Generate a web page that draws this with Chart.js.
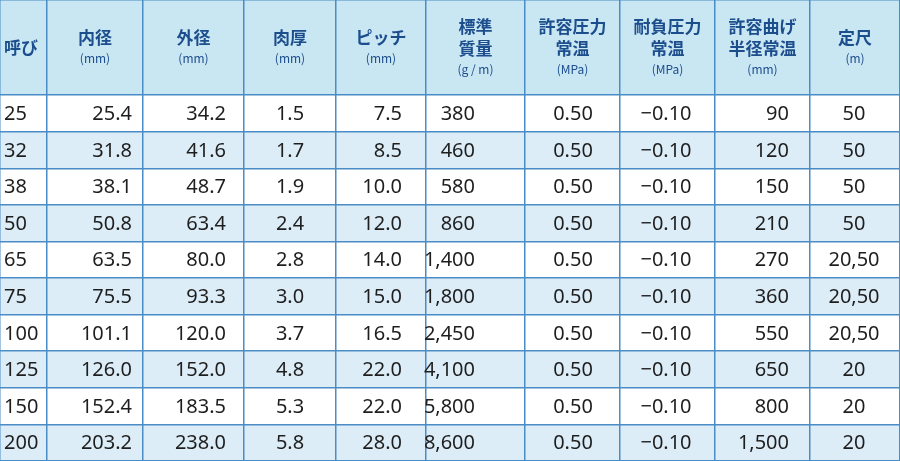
<!DOCTYPE html>
<html><head><meta charset="utf-8">
<script src="https://cdn.jsdelivr.net/npm/chart.js@4"></script>
<style>html,body{margin:0;padding:0;background:#fff}#w{width:900px;height:461px}</style>
</head><body><div id="w"><canvas id="c"></canvas></div>
<script>
const headers=[["呼び"],["内径","(mm)"],["外径","(mm)"],["肉厚","(mm)"],["ピッチ","(mm)"],["標準","質量","(g / m)"],["許容圧力","常温","(MPa)"],["耐負圧力","常温","(MPa)"],["許容曲げ","半径常温","(mm)"],["定尺","(m)"]];
const nominal=["25","32","38","50","65","75","100","125","150","200"];
const innerDia=["25.4","31.8","38.1","50.8","63.5","75.5","101.1","126.0","152.4","203.2"];
const outerDia=["34.2","41.6","48.7","63.4","80.0","93.3","120.0","152.0","183.5","238.0"];
const thickness=["1.5","1.7","1.9","2.4","2.8","3.0","3.7","4.8","5.3","5.8"];
const pitch=["7.5","8.5","10.0","12.0","14.0","15.0","16.5","22.0","22.0","28.0"];
const mass=["380","460","580","860","1,400","1,800","2,450","4,100","5,800","8,600"];
const pressure=["0.50","0.50","0.50","0.50","0.50","0.50","0.50","0.50","0.50","0.50"];
const vacuum=["−0.10","−0.10","−0.10","−0.10","−0.10","−0.10","−0.10","−0.10","−0.10","−0.10"];
const bendRadius=["90","120","150","210","270","360","550","650","800","1,500"];
const length=["50","50","50","50","20,50","20,50","20,50","20","20","20"];
const columns=[nominal,innerDia,outerDia,thickness,pitch,mass,pressure,vacuum,bendRadius,length];
// layout
const colEdges=[0,47,143,244,336,426,525,620,715,810,900];
const anchors=[[4,'left'],[132,'right'],[226,'right'],[290,'center'],[402,'right'],[475,'right'],[573,'center'],[666,'center'],[789,'right'],[854,'center']];
const HEAD=-2.6;
const tablePlugin={id:'tbl',
 beforeDraw(ch){const {ctx}=ch,x=ch.scales.x,y=ch.scales.y;ctx.save();
  ctx.fillStyle='#c9e6f3';ctx.fillRect(x.left,y.getPixelForValue(HEAD),x.right-x.left,y.getPixelForValue(0)-y.getPixelForValue(HEAD));
  for(let i=0;i<nominal.length;i++){ctx.fillStyle=i%2?'#dcedf8':'#ffffff';const a=y.getPixelForValue(i),b=y.getPixelForValue(i+1);ctx.fillRect(x.left,a,x.right-x.left,b-a);}
  ctx.restore();},
 afterDatasetsDraw(ch){const {ctx}=ch,x=ch.scales.x,y=ch.scales.y;ctx.save();ctx.textBaseline='middle';
  headers.forEach((h,c)=>{const cx=(x.getPixelForValue(colEdges[c])+x.getPixelForValue(colEdges[c+1]))/2;
    const top=y.getPixelForValue(HEAD),bot=y.getPixelForValue(0);
    const lh=h.map(t=>t.startsWith('(')?20:22);const tot=lh.reduce((a,b)=>a+b,0);let yy=(top+bot)/2-tot/2;
    ctx.textAlign=c===0?'left':'center';
    h.forEach((t,k)=>{const unit=t.startsWith('(');ctx.font=(unit?'12px':'bold 17px')+' "Noto Sans CJK JP"';ctx.fillStyle='#1c4d8c';
      ctx.fillText(t,c===0?4:cx,yy+lh[k]/2);yy+=lh[k];});});
  columns.forEach((col,c)=>{ctx.textAlign=anchors[c][1];col.forEach((v,i)=>{ctx.font='20px "Noto Sans","Noto Sans CJK JP"';ctx.fillStyle='#1e1e1e';
    ctx.fillText(v,anchors[c][0],y.getPixelForValue(i+0.5)+1);});});
  ctx.restore();}};
new Chart(document.getElementById('c'),{type:'scatter',data:{datasets:[{data:[]}]},
 options:{responsive:true,maintainAspectRatio:false,animation:false,layout:{padding:0},
  plugins:{legend:{display:false},tooltip:{enabled:false}},
  scales:{x:{type:'linear',min:0,max:900,afterBuildTicks:s=>{s.ticks=colEdges.map(v=>({value:v}));},
     ticks:{display:false},grid:{color:'#4a8cc6',lineWidth:1.5,drawTicks:false},border:{display:false}},
   y:{type:'linear',min:HEAD,max:10,reverse:true,afterBuildTicks:s=>{s.ticks=[HEAD,0,1,2,3,4,5,6,7,8,9,10].map(v=>({value:v}));},
     ticks:{display:false},grid:{color:'#4a8cc6',lineWidth:1.5,drawTicks:false},border:{display:false}}}},
 plugins:[tablePlugin]});
</script></body></html>
